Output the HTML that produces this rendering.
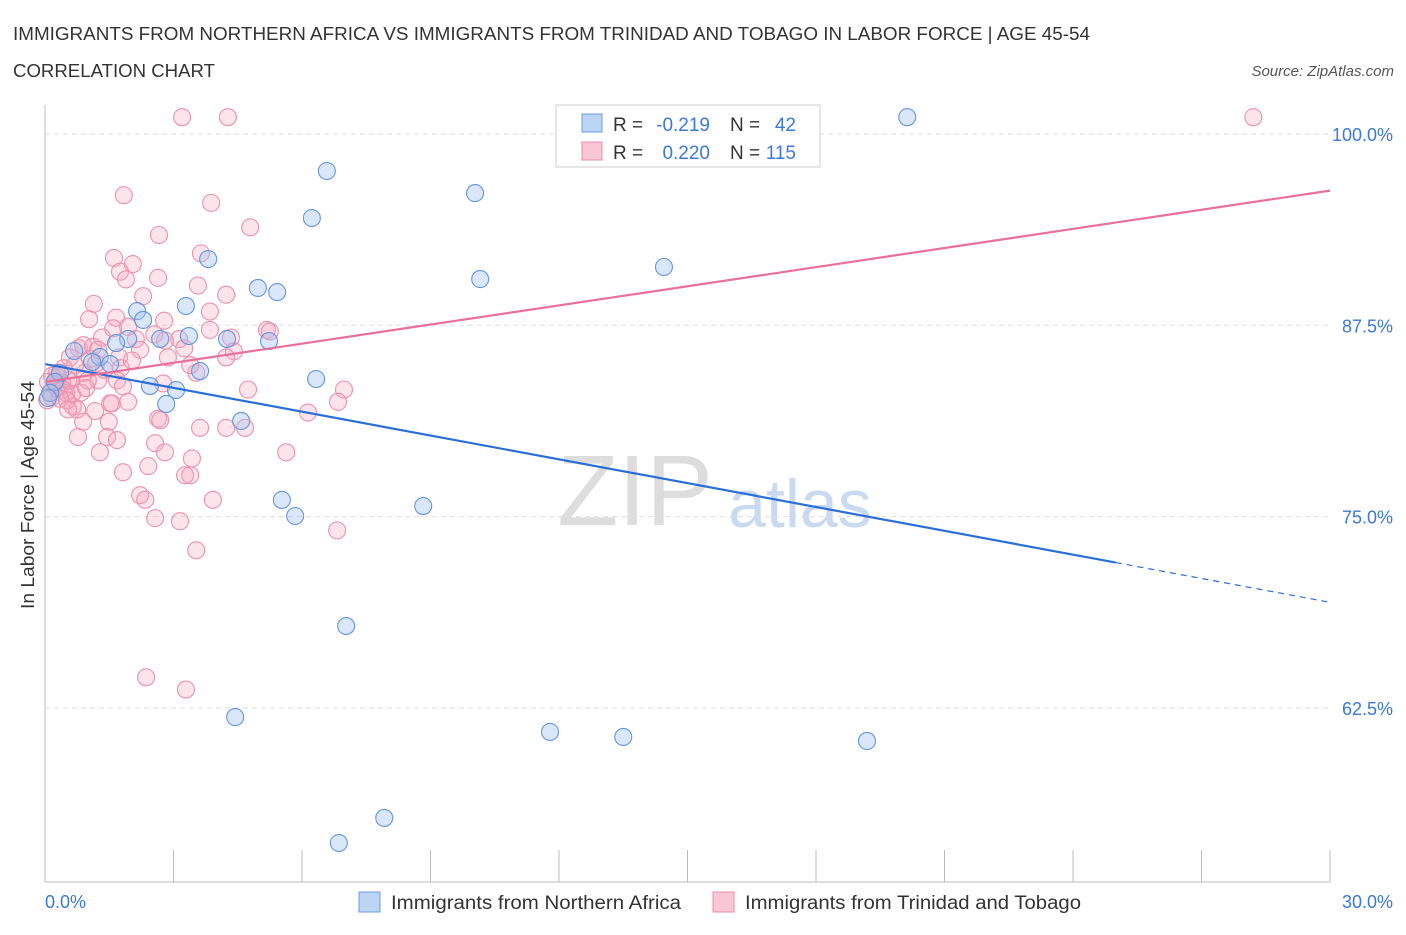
<!DOCTYPE html>
<html><head><meta charset="utf-8"><style>
body{margin:0;background:#fff;font-family:"Liberation Sans",sans-serif}
svg text{font-family:"Liberation Sans",sans-serif}
</style></head><body>
<svg id="c" width="1406" height="930">
<text x="13" y="40" font-size="18" fill="#333" textLength="1077" lengthAdjust="spacingAndGlyphs">IMMIGRANTS FROM NORTHERN AFRICA VS IMMIGRANTS FROM TRINIDAD AND TOBAGO IN LABOR FORCE | AGE 45-54</text>
<text x="13" y="77" font-size="18" fill="#333" textLength="202" lengthAdjust="spacingAndGlyphs">CORRELATION CHART</text>
<text x="1394" y="76" font-size="15" fill="#555" font-style="italic" text-anchor="end">Source: ZipAtlas.com</text>
<text x="635" y="525" font-size="100" fill="#ddd" text-anchor="middle" font-family="Liberation Serif">ZIP</text>
<text x="800" y="527" font-size="68" fill="#c9daf0" text-anchor="middle">atlas</text>
<g id="grid"></g><g id="marks"></g><g id="lines"></g>
<line x1="45" y1="105" x2="45" y2="882" stroke="#bbb"/>
<line x1="45" y1="882" x2="1330" y2="882" stroke="#bbb"/>
<text x="34" y="495" font-size="18" fill="#333" text-anchor="middle" transform="rotate(-90 34 495)" textLength="228" lengthAdjust="spacingAndGlyphs">In Labor Force | Age 45-54</text>
<text x="45" y="908" font-size="18" fill="#3c78d8">0.0%</text>
<text x="1393" y="908" font-size="18" fill="#3c78d8" text-anchor="end">30.0%</text>
<g>
<rect x="556" y="105" width="264" height="62" fill="#fff" stroke="#ccc"/>
<rect x="582" y="114" width="20" height="18" fill="#bcd5f5" stroke="#6a9be0"/>
<rect x="582" y="142" width="20" height="18" fill="#f9c6d6" stroke="#ec8cab"/>
<text x="613" y="131" font-size="19" fill="#333">R =</text>
<text x="710" y="131" font-size="19" fill="#3c78d8" text-anchor="end">-0.219</text>
<text x="730" y="131" font-size="19" fill="#333">N =</text>
<text x="796" y="131" font-size="19" fill="#3c78d8" text-anchor="end">42</text>
<text x="613" y="159" font-size="19" fill="#333">R =</text>
<text x="710" y="159" font-size="19" fill="#3c78d8" text-anchor="end">0.220</text>
<text x="730" y="159" font-size="19" fill="#333">N =</text>
<text x="796" y="159" font-size="19" fill="#3c78d8" text-anchor="end">115</text>
</g>
<g>
<rect x="359" y="892" width="21" height="20" fill="#bcd5f5" stroke="#6a9be0"/>
<text x="391" y="909" font-size="19" fill="#333" textLength="290" lengthAdjust="spacingAndGlyphs">Immigrants from Northern Africa</text>
<rect x="713" y="892" width="21" height="20" fill="#f9c6d6" stroke="#ec8cab"/>
<text x="745" y="909" font-size="19" fill="#333" textLength="336" lengthAdjust="spacingAndGlyphs">Immigrants from Trinidad and Tobago</text>
</g>
</svg>
<script>
const yTicks=[100,87.5,75,62.5];
const yTickLabels=["100.0%","87.5%","75.0%","62.5%"];
const xTickVals=[0,3,6,9,12,15,18,21,24,27,30];
const blueX=[20.13,6.58,10.04,6.23,3.81,14.45,10.16,4.97,5.42,3.29,2.15,2.29,2.69,3.36,4.25,5.23,1.94,1.66,0.68,1.28,1.10,1.52,3.62,6.33,2.45,3.06,2.83,4.58,5.53,5.84,8.83,7.03,4.44,11.79,13.50,19.19,7.92,6.86,0.35,0.23,0.12,0.07];
const blueY=[101.1,97.58,96.14,94.51,91.83,91.31,90.52,89.94,89.67,88.76,88.43,87.85,86.61,86.80,86.61,86.47,86.61,86.34,85.82,85.43,85.10,84.97,84.51,83.99,83.53,83.27,82.36,81.25,76.09,75.04,75.69,67.85,61.90,60.93,60.60,60.34,55.31,53.67,84.38,83.80,83.08,82.75];
const pinkX=[3.20,4.27,28.21,1.84,3.88,4.79,2.66,3.64,1.61,2.05,1.75,1.89,2.64,2.29,3.57,4.23,1.14,3.85,2.78,1.66,1.03,1.59,1.94,3.85,5.18,5.25,4.34,1.33,2.12,3.13,2.80,4.41,2.87,1.73,0.58,1.05,0.93,1.77,1.24,1.68,2.76,3.53,4.74,6.98,6.14,6.84,1.52,1.94,0.84,0.65,1.17,1.56,2.64,2.69,4.23,3.62,4.67,1.49,0.89,0.77,1.45,1.68,2.57,5.63,1.28,2.80,3.43,1.82,2.41,3.39,3.27,2.22,2.34,3.92,3.15,2.57,6.82,3.53,2.36,3.29,0.79,0.89,1.12,0.70,0.54,0.40,0.30,0.21,0.12,0.05,0.16,0.28,0.42,0.49,0.58,0.63,0.44,0.28,0.16,0.35,0.51,0.75,1.0,1.19,1.38,1.82,2.22,2.55,3.25,4.23,3.39,2.03,1.24,0.96,0.54,0.07];
const pinkY=[101.1,101.1,101.1,96.0,95.5,93.9,93.4,92.2,91.9,91.5,91.0,90.5,90.6,89.4,90.1,89.5,88.9,88.4,87.8,88.0,87.9,87.3,87.4,87.2,87.2,87.1,86.7,86.7,86.6,86.6,86.5,85.8,85.4,85.4,85.4,85.3,84.4,84.7,83.9,83.9,83.7,84.4,83.3,83.3,81.8,82.5,82.4,82.5,83.1,82.2,81.9,82.4,81.4,81.3,80.8,80.8,80.8,81.2,81.2,80.2,80.2,80.0,79.8,79.2,79.2,79.2,78.8,77.9,78.3,77.7,77.7,76.4,76.1,76.1,74.7,74.9,74.1,72.8,64.5,63.7,86.0,86.2,86.1,84.9,83.9,83.7,84.1,83.6,83.1,82.6,82.8,83.4,83.3,83.1,83.9,83.0,84.7,84.4,84.2,82.7,82.6,82.0,83.9,85.0,84.6,83.5,85.9,86.9,86.0,85.4,84.9,85.2,85.9,83.4,82.0,83.8];
const blueTrend=[84.97,69.4];
const pinkTrend=[83.8,96.3];
const NS='http://www.w3.org/2000/svg';
const X=v=>45+v/30*1285, Y=v=>134+(100-v)/12.5*191.3;
function mk(t,a,p){const e=document.createElementNS(NS,t);for(const k in a)e.setAttribute(k,a[k]);p.appendChild(e);return e;}
const grid=document.getElementById('grid'),marks=document.getElementById('marks'),lines=document.getElementById('lines');
yTicks.forEach((v,i)=>{
 const l=mk('line',{x1:45,x2:1330,y1:Y(v),y2:Y(v),stroke:'#ddd','stroke-dasharray':'5,4'},grid);
 
 
 const t=mk('text',{x:1393,y:Y(v)+7,'font-size':18,fill:'#3c78d8','text-anchor':'end'},grid);
 t.textContent=yTickLabels[i];
 
 
});
xTickVals.forEach(v=>{
 const l=mk('line',{x1:X(v),x2:X(v),y1:850,y2:882,stroke:'#bbb'},grid);
 
 
});
pinkX.forEach((x,i)=>{
 const c=mk('circle',{cx:X(x),cy:Y(pinkY[i]),r:8.5,fill:'rgba(245,165,190,0.3)',stroke:'#eb91ae','stroke-width':1.1},marks);
 
 
});
blueX.forEach((x,i)=>{
 const c=mk('circle',{cx:X(x),cy:Y(blueY[i]),r:8.5,fill:'rgba(160,196,240,0.4)',stroke:'#6396dc','stroke-width':1.1},marks);
 
 
});
const bAt=x=>blueTrend[0]+(blueTrend[1]-blueTrend[0])*x/30;
let l1=mk('line',{x1:X(0),y1:Y(bAt(0)),x2:X(25),y2:Y(bAt(25)),stroke:'#2b6fd6','stroke-width':2.2},lines);


let l2=mk('line',{x1:X(25),y1:Y(bAt(25)),x2:X(30),y2:Y(bAt(30)),stroke:'#2b6fd6','stroke-width':1.2,'stroke-dasharray':'6,5'},lines);


let l3=mk('line',{x1:X(0),y1:Y(pinkTrend[0]),x2:X(30),y2:Y(pinkTrend[1]),stroke:'#e8709a','stroke-width':2.2},lines);


</script>
</body></html>
